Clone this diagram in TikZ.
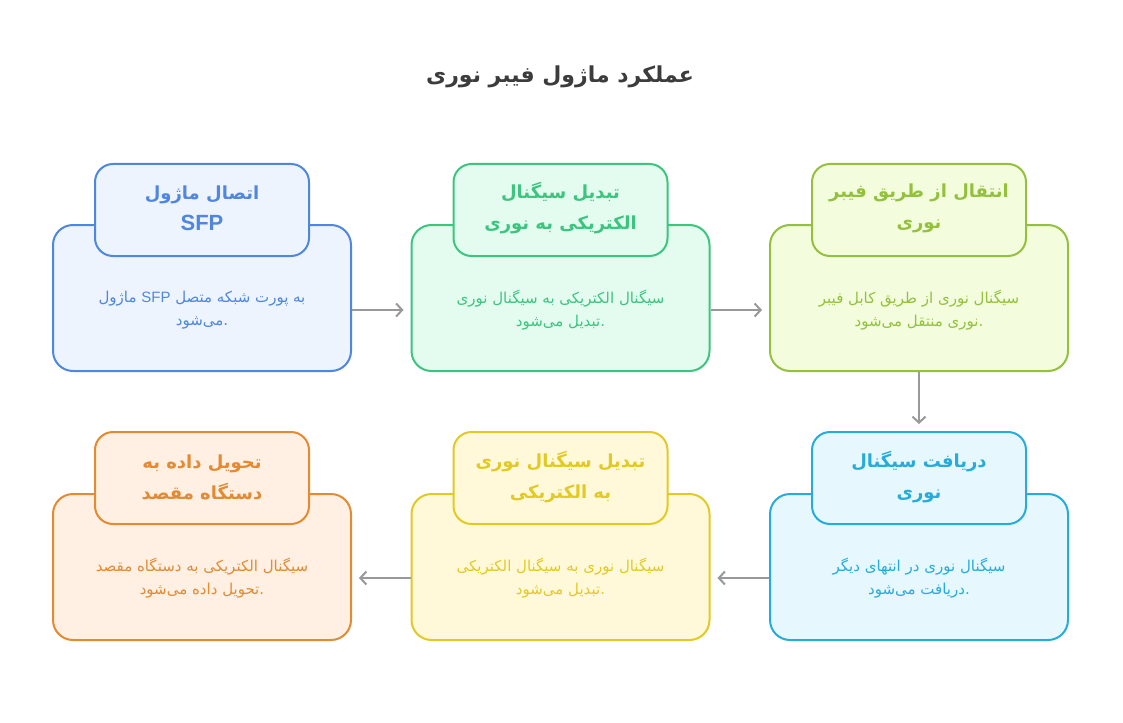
\documentclass[tikz,border=0pt]{standalone}
\usepackage{fontspec}
\setmainfont{Liberation Sans}
\newfontfamily\latinfont{Liberation Sans}
\newfontfamily\arabicfont[Script=Arabic]{DejaVu Sans}
\TeXXeTstate=1
\usetikzlibrary{arrows.meta}
\newcommand\mish{می^^^^200cشود}
\definecolor{titlegray}{HTML}{3C3C3C}
\definecolor{arrowgray}{HTML}{999999}
\definecolor{bluS}{HTML}{4F87E0}\definecolor{bluF}{HTML}{EEF4FE}
\definecolor{grnS}{HTML}{3DC47F}\definecolor{grnF}{HTML}{E3FCEF}
\definecolor{limS}{HTML}{93C13E}\definecolor{limF}{HTML}{F3FDDD}
\definecolor{cyaS}{HTML}{27ABDC}\definecolor{cyaF}{HTML}{E6F8FE}
\definecolor{yelS}{HTML}{E2C924}\definecolor{yelF}{HTML}{FFF9D9}
\definecolor{orgS}{HTML}{E38A33}\definecolor{orgF}{HTML}{FFF0E3}
\tikzset{
  bigbox/.style={draw, line width=2pt, rounded corners=20pt, minimum width=298pt, minimum height=146pt, inner sep=0pt},
  tabbox/.style={draw, line width=2pt, rounded corners=18pt, minimum width=214pt, minimum height=92pt, inner sep=0pt},
  tabtext/.style={font=\arabicfont\bfseries\fontsize{18}{31}\selectfont, align=center, inner sep=0pt},
  desctext/.style={font=\arabicfont\fontsize{15}{23}\selectfont, align=center, inner sep=0pt},
  flow/.style={draw=arrowgray, line width=2pt, -{Straight Barb[length=6pt,width=13pt,line width=2pt]}, shorten >=7pt},
  titletext/.style={font=\arabicfont\bfseries\fontsize{22}{26}\selectfont, text=titlegray, inner sep=0pt}
}
\begin{document}
\begin{tikzpicture}[x=1pt,y=-1pt]
\useasboundingbox[fill=white] (0,0) rectangle (1123,722);
\node[titletext] (title) at (560,77) {\beginR عملکرد ماژول فیبر نوری\endR};

% row 1
\node[bigbox, draw=bluS, fill=bluF] (big1) at (202,298) {};
\node[tabbox, draw=bluS, fill=bluF] (tab1) at (202,210) {};
\node[tabtext, text=bluS] (t1) at (202,208) {\beginR اتصال ماژول\endR\\{\latinfont\fontsize{22}{31}\selectfont SFP}};
\node[desctext, text=bluS] (d1) at (202,310) {\beginR ماژول\endR{} {\latinfont SFP} \beginR به پورت شبکه متصل\endR\\\beginR \mish\endR.};

\node[bigbox, draw=grnS, fill=grnF] (big2) at (560.5,298) {};
\node[tabbox, draw=grnS, fill=grnF] (tab2) at (560.5,210) {};
\node[tabtext, text=grnS] (t2) at (560.5,208) {\beginR تبدیل سیگنال\endR\\\beginR الکتریکی به نوری\endR};
\node[desctext, text=grnS] (d2) at (560.5,310) {\beginR سیگنال الکتریکی به سیگنال نوری\endR\\\beginR تبدیل \mish\endR.};

\node[bigbox, draw=limS, fill=limF] (big3) at (919,298) {};
\node[tabbox, draw=limS, fill=limF] (tab3) at (919,210) {};
\node[tabtext, text=limS] (t3) at (919,208) {\beginR انتقال از طریق فیبر\endR\\\beginR نوری\endR};
\node[desctext, text=limS] (d3) at (919,310) {\beginR سیگنال نوری از طریق کابل فیبر\endR\\\beginR نوری منتقل \mish\endR.};

% row 2
\node[bigbox, draw=cyaS, fill=cyaF] (big4) at (919,567) {};
\node[tabbox, draw=cyaS, fill=cyaF] (tab4) at (919,478) {};
\node[tabtext, text=cyaS] (t4) at (919,477) {\beginR دریافت سیگنال\endR\\\beginR نوری\endR};
\node[desctext, text=cyaS] (d4) at (919,578) {\beginR سیگنال نوری در انتهای دیگر\endR\\\beginR دریافت \mish\endR.};

\node[bigbox, draw=yelS, fill=yelF] (big5) at (560.5,567) {};
\node[tabbox, draw=yelS, fill=yelF] (tab5) at (560.5,478) {};
\node[tabtext, text=yelS] (t5) at (560.5,477) {\beginR تبدیل سیگنال نوری\endR\\\beginR به الکتریکی\endR};
\node[desctext, text=yelS] (d5) at (560.5,578) {\beginR سیگنال نوری به سیگنال الکتریکی\endR\\\beginR تبدیل \mish\endR.};

\node[bigbox, draw=orgS, fill=orgF] (big6) at (202,567) {};
\node[tabbox, draw=orgS, fill=orgF] (tab6) at (202,478) {};
\node[tabtext, text=orgS] (t6) at (202,477) {\beginR تحویل داده به\endR\\\beginR دستگاه مقصد\endR};
\node[desctext, text=orgS] (d6) at (202,578) {\beginR سیگنال الکتریکی به دستگاه مقصد\endR\\\beginR تحویل داده \mish\endR.};

% connectors
\draw[flow] ([yshift=-12pt]big1.east) -- ([yshift=-12pt]big2.west);
\draw[flow] ([yshift=-12pt]big2.east) -- ([yshift=-12pt]big3.west);
\draw[flow] (big3.south) -- (tab4.north);
\draw[flow] ([yshift=-11pt]big4.west) -- ([yshift=-11pt]big5.east);
\draw[flow] ([yshift=-11pt]big5.west) -- ([yshift=-11pt]big6.east);
\end{tikzpicture}
\end{document}
